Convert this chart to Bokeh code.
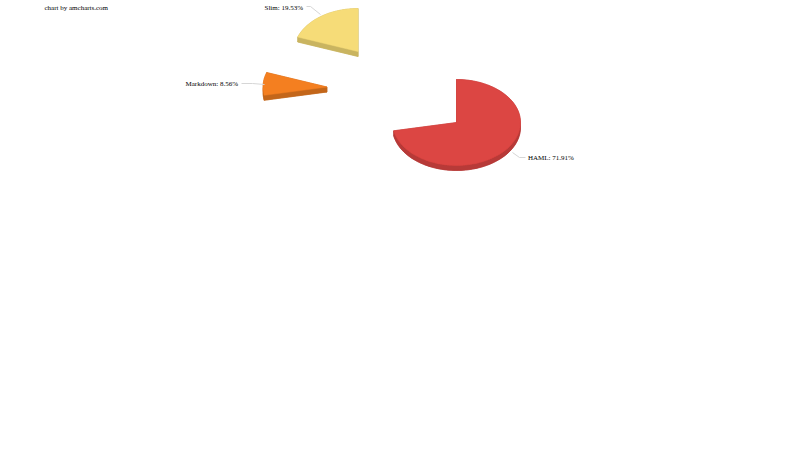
import numpy as np
from bokeh.plotting import figure
from bokeh.models import ColumnDataSource, Range1d
from bokeh.core.properties import value
from bokeh.embed import file_html
from bokeh.resources import INLINE

categories = ["HAML", "Markdown", "Slim"]
shares = [71.91, 8.56, 19.53]
face_colors = ["#dc4643", "#f47f20", "#f6dc78"]
side_colors = ["#b73a38", "#c3661a", "#c9b460"]
centers_x = [456.0, 326.5, 357.5]
centers_y = [122.0, 86.5, 51.0]
radius_x = 64.0
radius_y = 43.0
depth = 5.0

label_x = [527.5, 237.5, 302.5]
label_y = [157.5, 83.5, 7]
label_align = ["left", "right", "right"]
leader_x = [[512, 519, 525], [264, 252, 241], [320, 310, 306]]
leader_y = [[152, 157, 157], [84, 83, 83], [14, 6, 6]]
credit = "chart by amcharts.com"

p = figure(width=800, height=450, output_backend="svg", toolbar_location=None,
           x_range=Range1d(0, 800), y_range=Range1d(450, 0), min_border=0,
           outline_line_color=None, background_fill_color="white",
           border_fill_color="white")
p.axis.visible = False
p.grid.visible = False

sx, sy, sc, fx, fy, fc = [], [], [], [], [], []
cum = np.cumsum([0] + shares) / sum(shares) * 2 * np.pi
for i in range(len(categories)):
    t = np.linspace(cum[i], cum[i + 1], 120)
    ax = centers_x[i] + radius_x * np.sin(t)
    ay = centers_y[i] - radius_y * np.cos(t)
    cx, cy = centers_x[i], centers_y[i]
    # bottom copy, rim ribbon and the two cut walls
    sx.append(np.r_[cx, ax]); sy.append(np.r_[cy, ay] + depth); sc.append(side_colors[i])
    sx.append(np.r_[ax, ax[::-1]]); sy.append(np.r_[ay, ay[::-1] + depth]); sc.append(side_colors[i])
    for e in (0, -1):
        sx.append(np.array([cx, ax[e], ax[e], cx]))
        sy.append(np.array([cy, ay[e], ay[e] + depth, cy + depth]))
        sc.append(side_colors[i])
    fx.append(np.r_[cx, ax]); fy.append(np.r_[cy, ay]); fc.append(face_colors[i])

p.patches(xs=sx, ys=sy, fill_color=sc, line_color=sc, line_width=0.5)
p.patches(xs=fx, ys=fy, fill_color=fc, line_color=fc, line_width=0.5)
p.multi_line(xs=leader_x, ys=leader_y, line_color="#d6d6d6", line_width=1)

labels = [f"{c}: {s:.2f}%" for c, s in zip(categories, shares)]
src = ColumnDataSource(dict(x=label_x, y=label_y, t=labels, a=label_align))
p.text(x="x", y="y", text="t", text_align="a", source=src, text_baseline="middle",
       text_font=value("Liberation Serif"), text_font_size="7px", text_color="#000000")
p.text(x=[44], y=[7], text=[credit], text_baseline="middle",
       text_font=value("Liberation Serif"), text_font_size="7px", text_color="#000000")

open("out.html", "w").write(file_html(p, INLINE))
